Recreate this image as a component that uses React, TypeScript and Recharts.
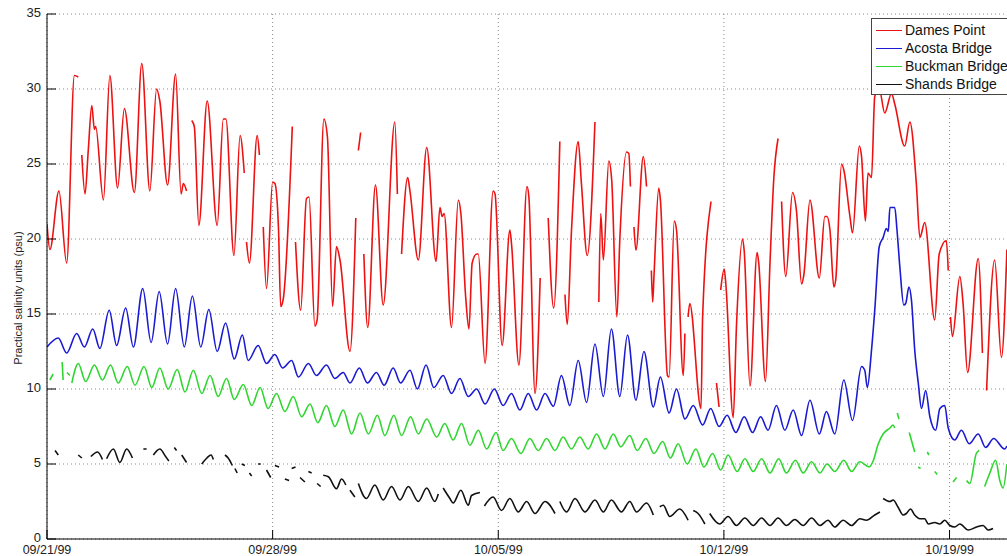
import { LineChart, Line, XAxis, YAxis, CartesianGrid, Legend } from 'recharts';

// salinity records, Sept 21 - Oct 20 1999
// t = days since 09/21/99, v = psu (null = gap in the record)
type Pt = [number, number | null];

const tickDays = [0, 7, 14, 21, 28];
const tickDates = ['09/21/99', '09/28/99', '10/05/99', '10/12/99', '10/19/99'];
const yTicks = [0, 5, 10, 15, 20, 25, 30, 35];

const damesPoint: Pt[] = [
  [0.0, 21.0], [0.09, 19.3], [0.37, 23.2], [0.61, 18.4], [0.85, 30.9], [0.97, 30.8], [1.02, null],
  [1.08, 25.6], [1.18, 23.0], [1.28, 25.9], [1.39, 28.9], [1.47, 27.3], [1.51, 27.5], [1.75, 22.6],
  [1.95, 30.9], [2.19, 23.4], [2.4, 28.7], [2.71, 23.1], [2.94, 31.7], [3.19, 23.2], [3.4, 30.0],
  [3.5, 29.2], [3.74, 23.6], [3.99, 31.0], [4.16, 23.0], [4.23, 23.7], [4.33, 23.2], [4.41, null],
  [4.49, 27.9], [4.57, 27.5], [4.71, 20.9], [4.97, 29.2], [5.28, 20.9], [5.47, 28.0], [5.55, 28.0],
  [5.8, 18.9], [5.99, 26.9], [6.12, 24.4], [6.16, null],
  [6.19, 19.8], [6.28, 18.4], [6.52, 26.9], [6.59, 25.6], [6.65, null],
  [6.71, 20.8], [6.81, 16.7], [7.0, 23.8], [7.07, 23.7], [7.18, 20.8], [7.25, 15.5], [7.33, 16.0],
  [7.61, 27.5], [7.66, null],
  [7.71, 19.8], [7.87, 15.25], [8.05, 22.7], [8.13, 22.8], [8.31, 14.2], [8.38, 14.6], [8.59, 28.0],
  [8.7, 26.8], [8.86, 15.5], [8.98, 19.5], [9.09, 18.6], [9.4, 12.5], [9.58, 21.4], [9.62, null],
  [9.66, 25.9], [9.73, 27.1], [9.78, null],
  [9.83, 19.0], [9.95, 14.1], [10.19, 23.6], [10.43, 15.6], [10.79, 27.8], [10.87, 23.0], [10.93, null],
  [11.0, 19.0], [11.19, 24.1], [11.26, 23.2], [11.52, 18.6], [11.78, 26.1], [12.07, 18.5],
  [12.19, 22.1], [12.26, 21.5], [12.32, 21.7], [12.55, 14.1], [12.76, 22.6], [12.84, 21.7],
  [12.99, 16.1], [13.09, 14.0], [13.19, 18.4], [13.33, 19.0], [13.38, 19.0], [13.59, 11.7],
  [13.84, 23.2], [13.9, 23.0], [14.12, 12.9], [14.36, 20.6], [14.41, 19.7], [14.64, 11.6],
  [14.89, 23.5], [14.95, 22.8], [15.14, 9.7], [15.3, 17.4], [15.42, null],
  [15.55, 21.4], [15.72, 15.4], [15.91, 26.5], [15.99, null],
  [16.07, 16.3], [16.14, 14.3], [16.27, 20.5], [16.48, 26.5], [16.58, 23.7], [16.76, 18.9],
  [17.0, 27.8], [17.06, null],
  [17.12, 15.8], [17.18, 21.7], [17.26, 18.6], [17.43, 25.2], [17.52, 23.9], [17.68, 14.8],
  [17.77, 19.9], [17.98, 25.8], [18.05, 25.7], [18.1, 23.5], [18.15, null],
  [18.21, 20.8], [18.27, 19.25], [18.5, 25.5], [18.6, 23.5], [18.67, null],
  [18.75, 17.9], [18.79, 15.8], [18.83, 17.5], [18.98, 23.4], [19.03, 22.6], [19.25, 10.9],
  [19.3, 10.8], [19.46, 21.2], [19.53, 20.6], [19.74, 10.9], [19.79, 13.7], [19.84, null],
  [19.89, 14.8], [19.94, 15.7], [20.29, 8.7], [20.34, 14.8], [20.6, 22.5], [20.68, null],
  [20.77, 10.4], [20.85, 8.8], [20.87, null],
  [20.9, 16.6], [21.01, 18.0], [21.06, 17.0], [21.29, 8.1], [21.39, 14.2], [21.58, 20.0],
  [21.63, 19.2], [21.81, 10.2], [22.03, 19.1], [22.08, 18.4], [22.29, 10.5], [22.43, 18.4],
  [22.55, 24.1], [22.68, 26.7], [22.73, null],
  [22.79, 22.5], [22.92, 17.5], [23.13, 23.1], [23.25, 21.9], [23.41, 17.0], [23.48, 17.6],
  [23.67, 22.6], [23.96, 17.4], [24.13, 21.5], [24.2, 21.5], [24.29, 20.6], [24.41, 16.8],
  [24.47, 17.3], [24.65, 25.0], [24.72, 24.6], [24.91, 21.5], [24.99, 20.4], [25.2, 26.2],
  [25.27, 25.5], [25.39, 21.2], [25.47, 24.4], [25.58, 24.1], [25.68, 29.5], [25.82, 30.0],
  [25.99, 28.4], [26.2, 29.7], [26.3, 29.0], [26.61, 26.2], [26.77, 27.8], [26.97, 23.7],
  [27.08, 20.1], [27.23, 21.1], [27.54, 14.6], [27.68, 19.0], [27.9, 19.9], [27.96, 17.9], [28.0, null],
  [28.03, 14.8], [28.09, 13.5], [28.32, 17.5], [28.42, 15.7], [28.56, 11.1], [28.89, 18.7],
  [29.02, 12.4], [29.08, null],
  [29.15, 9.9], [29.4, 18.6], [29.61, 12.1], [29.78, 19.3],
];

const acostaBridge: Pt[] = [
  [0.0, 12.8], [0.35, 13.4], [0.61, 12.4], [0.92, 13.7], [1.16, 12.8], [1.42, 14.0], [1.64, 12.7],
  [1.93, 15.25], [2.16, 12.9], [2.44, 15.4], [2.68, 12.8], [2.97, 16.7], [3.23, 13.1], [3.48, 16.5],
  [3.74, 13.0], [3.99, 16.7], [4.26, 12.8], [4.51, 16.2], [4.77, 12.8], [5.02, 15.3], [5.28, 12.5],
  [5.54, 14.4], [5.81, 12.0], [6.06, 13.6], [6.24, 11.9], [6.55, 12.9], [6.81, 11.7], [7.07, 12.3],
  [7.31, 11.4], [7.59, 11.9], [7.8, 10.8], [8.11, 11.7], [8.36, 10.9], [8.67, 11.6], [8.93, 10.7],
  [9.19, 11.1], [9.4, 10.4], [9.69, 11.4], [9.94, 10.4], [10.22, 11.1], [10.46, 10.25], [10.74, 11.4],
  [10.97, 10.4], [11.26, 11.25], [11.49, 10.0], [11.76, 11.6], [12.0, 10.1], [12.29, 10.9],
  [12.55, 9.7], [12.81, 10.7], [13.07, 9.5], [13.33, 10.0], [13.59, 9.0], [13.88, 10.0], [14.15, 8.9],
  [14.41, 9.7], [14.67, 8.6], [14.93, 9.7], [15.19, 8.6], [15.45, 9.7], [15.71, 8.85], [15.96, 10.9],
  [16.22, 8.9], [16.48, 11.9], [16.74, 9.1], [17.0, 13.0], [17.26, 9.5], [17.51, 14.0], [17.77, 9.5],
  [18.01, 13.6], [18.27, 9.25], [18.52, 12.5], [18.81, 8.8], [19.03, 10.8], [19.3, 8.4], [19.53, 10.0],
  [19.79, 8.0], [20.05, 8.9], [20.34, 7.6], [20.59, 8.7], [20.85, 7.5], [21.1, 8.25], [21.37, 7.1],
  [21.63, 8.15], [21.89, 7.1], [22.14, 8.15], [22.37, 7.25], [22.63, 8.9], [22.89, 7.25], [23.15, 8.6],
  [23.41, 6.9], [23.67, 9.25], [23.96, 7.0], [24.18, 8.5], [24.44, 7.0], [24.72, 10.6], [24.99, 7.9],
  [25.27, 11.5], [25.37, 11.25], [25.45, 10.1], [25.58, 12.6], [25.68, 15.25], [25.82, 19.5],
  [25.94, 20.1], [26.04, 20.7], [26.1, 20.5], [26.15, 22.1], [26.3, 22.1], [26.37, 20.6], [26.46, 18.1],
  [26.58, 15.6], [26.64, 15.7], [26.74, 16.8], [26.82, 15.9], [26.92, 12.6], [27.03, 10.4],
  [27.13, 8.7], [27.26, 9.9], [27.39, 8.15], [27.57, 7.25], [27.7, 8.7], [27.85, 8.9], [27.96, 7.4],
  [28.16, 6.6], [28.37, 7.25], [28.61, 6.35], [28.89, 7.0], [29.12, 6.1], [29.37, 6.7], [29.71, 6.0],
  [29.78, 6.2],
];

const buckmanBridge: Pt[] = [
  [0.09, 10.6], [0.19, 11.0], [0.3, null], [0.47, 11.8], [0.5, 10.6], [0.55, null],
  [0.62, 11.1], [0.71, 10.9], [0.74, null],
  [0.77, 10.4], [0.97, 11.7], [1.2, 10.5], [1.47, 11.6], [1.72, 10.6], [1.97, 11.6], [2.21, 10.4],
  [2.49, 11.5], [2.73, 10.25], [3.01, 11.5], [3.25, 10.1], [3.5, 11.4], [3.76, 10.0], [4.04, 11.3],
  [4.28, 9.8], [4.54, 11.25], [4.8, 9.7], [5.06, 10.9], [5.31, 9.5], [5.57, 10.7], [5.81, 9.3],
  [6.09, 10.3], [6.35, 8.9], [6.61, 10.1], [6.86, 8.7], [7.12, 9.7], [7.38, 8.5], [7.64, 9.5],
  [7.9, 8.15], [8.16, 9.0], [8.4, 7.75], [8.67, 8.9], [8.93, 7.5], [9.19, 8.6], [9.45, 7.0],
  [9.71, 8.4], [9.97, 7.0], [10.25, 8.25], [10.48, 6.9], [10.76, 8.25], [11.0, 6.9], [11.28, 8.15],
  [11.52, 7.0], [11.78, 8.0], [12.09, 6.8], [12.34, 7.7], [12.6, 6.6], [12.86, 7.7], [13.12, 6.25],
  [13.38, 7.25], [13.64, 6.0], [13.93, 7.1], [14.15, 5.9], [14.41, 6.7], [14.7, 5.7], [14.98, 6.7],
  [15.24, 5.9], [15.5, 6.7], [15.76, 5.9], [16.01, 6.8], [16.27, 6.0], [16.53, 6.8], [16.79, 6.0],
  [17.05, 7.0], [17.31, 6.0], [17.57, 7.0], [17.8, 6.15], [18.08, 6.9], [18.31, 5.9], [18.58, 6.7],
  [18.83, 5.7], [19.1, 6.5], [19.34, 5.4], [19.58, 6.35], [19.86, 5.0], [20.13, 6.0], [20.38, 4.8],
  [20.65, 5.7], [20.9, 4.6], [21.13, 5.6], [21.41, 4.5], [21.65, 5.35], [21.91, 4.5], [22.17, 5.35],
  [22.43, 4.4], [22.7, 5.35], [22.94, 4.4], [23.22, 5.25], [23.46, 4.4], [23.72, 5.15], [23.98, 4.4],
  [24.2, 5.0], [24.44, 4.5], [24.72, 5.25], [24.96, 4.5], [25.22, 5.15], [25.51, 4.8], [25.63, 5.2],
  [25.79, 6.35], [25.94, 7.0], [26.15, 7.4], [26.25, 7.6], [26.3, 7.4], [26.34, null],
  [26.38, 8.4], [26.43, 8.0], [26.55, null],
  [26.75, 7.1], [26.92, 5.8], [26.97, null],
  [27.03, 4.8], [27.1, 4.7], [27.2, null],
  [27.31, 5.8], [27.36, 5.6], [27.45, null],
  [27.54, 4.5], [27.62, 4.3], [27.8, null],
  [28.11, 3.8], [28.22, 4.1], [28.4, null],
  [28.53, 3.9], [28.63, 3.7], [28.83, 5.7], [28.92, 5.9], [29.0, null],
  [29.09, 3.5], [29.25, 4.4], [29.43, 5.25], [29.56, 3.9], [29.66, 3.4], [29.78, 5.0],
];

const shandsBridge: Pt[] = [
  [0.25, 5.9], [0.35, 5.6], [0.6, null], [0.97, 5.6], [1.08, 5.4], [1.2, null],
  [1.36, 5.5], [1.57, 5.8], [1.72, 5.3], [1.79, null],
  [1.85, 5.35], [2.06, 6.0], [2.26, 5.1], [2.47, 6.0], [2.65, 5.4], [2.8, null],
  [2.99, 6.0], [3.09, 6.0], [3.2, null],
  [3.3, 5.6], [3.5, 6.0], [3.68, 5.5], [3.78, 5.2], [3.86, null],
  [3.95, 6.1], [4.02, 5.9], [4.1, null], [4.18, 5.6], [4.33, 5.1], [4.5, null],
  [4.8, 5.0], [4.96, 5.4], [5.09, 5.6], [5.16, 5.3], [5.3, null],
  [5.52, 5.6], [5.62, 5.4], [5.75, 4.9], [5.79, null], [5.83, 4.7], [5.9, 4.4], [5.97, null],
  [6.04, 5.0], [6.14, 4.9], [6.2, null], [6.28, 4.4], [6.35, 4.2], [6.45, null],
  [6.55, 5.0], [6.63, 5.0], [6.7, null], [6.81, 4.6], [6.94, 4.1], [7.0, null],
  [7.07, 4.9], [7.2, 4.8], [7.3, null], [7.38, 4.0], [7.51, 3.9], [7.55, null],
  [7.59, 4.7], [7.71, 4.8], [7.78, null], [7.85, 4.1], [8.0, 3.8], [8.05, null],
  [8.11, 4.5], [8.21, 4.4], [8.3, null], [8.38, 3.7], [8.49, 3.5], [8.53, null],
  [8.57, 4.25], [8.73, 4.15], [8.98, 3.35], [9.14, 4.0], [9.27, 3.6], [9.33, null],
  [9.4, 3.25], [9.55, 2.8], [9.6, null],
  [9.66, 3.7], [9.91, 2.7], [10.17, 3.6], [10.43, 2.6], [10.69, 3.5], [10.95, 2.6], [11.21, 3.5],
  [11.52, 2.5], [11.78, 3.4], [12.03, 2.5], [12.14, 3.0], [12.2, null],
  [12.29, 3.4], [12.5, 2.7], [12.6, 2.4], [12.84, 3.25], [13.07, 2.25], [13.17, 2.9], [13.43, 3.1], [13.5, null],
  [13.57, 2.2], [13.84, 2.8], [14.1, 1.9], [14.36, 2.7], [14.62, 1.8], [14.88, 2.5], [15.14, 1.7],
  [15.45, 2.5], [15.76, 1.7], [15.84, null],
  [15.91, 2.5], [16.12, 1.8], [16.38, 2.7], [16.69, 1.8], [17.0, 2.6], [17.26, 1.8], [17.51, 2.6],
  [17.82, 1.8], [18.08, 2.5], [18.29, 1.8], [18.6, 2.4], [18.81, 1.6], [18.9, null],
  [19.01, 2.15], [19.12, 2.25], [19.32, 1.5], [19.63, 2.0], [19.89, 1.25], [19.97, null],
  [20.05, 1.9], [20.2, 1.7], [20.41, 1.0], [20.48, null],
  [20.56, 1.7], [20.87, 1.0], [21.13, 1.5], [21.39, 0.9], [21.65, 1.4], [21.91, 0.9], [22.17, 1.4],
  [22.43, 0.9], [22.68, 1.4], [22.94, 0.9], [23.2, 1.3], [23.46, 0.9], [23.72, 1.4], [23.98, 0.9],
  [24.23, 1.25], [24.44, 0.8], [24.7, 1.25], [24.96, 0.9], [25.22, 1.35], [25.42, 1.25], [25.68, 1.6],
  [25.84, 1.8], [25.89, null],
  [25.94, 2.7], [26.15, 2.5], [26.25, 2.6], [26.41, 2.1], [26.56, 1.6], [26.66, 1.7], [26.79, 2.0],
  [26.92, 1.6], [27.08, 1.35], [27.23, 1.35], [27.34, 1.0], [27.54, 1.1], [27.7, 1.0], [27.85, 1.25],
  [28.01, 0.9], [28.16, 0.8], [28.32, 1.0], [28.58, 0.6], [28.84, 0.8], [29.04, 0.9], [29.2, 0.6],
  [29.35, 0.7],
];

const FONT = '"Liberation Sans", Arial, Helvetica, sans-serif';

const series = [
  { name: 'Dames Point', color: '#ee1111', points: damesPoint },
  { name: 'Acosta Bridge', color: '#1a1ad2', points: acostaBridge },
  { name: 'Buckman Bridge', color: '#2fd62f', points: buckmanBridge },
  { name: 'Shands Bridge', color: '#111111', points: shandsBridge },
];

const toRows = (pts: Pt[]) => pts.map(([t, v]) => ({ t, v }));

// matlab style ticks point into the plot
const BottomTick = ({ x, y, payload }: any) => (
  <g>
    <line x1={x} x2={x} y1={y} y2={y - 9} stroke="#000" />
    <text x={x} y={y + 14.5} textAnchor="middle" fontSize={12.5} fill="#222" fontFamily={FONT}>
      {tickDates[tickDays.indexOf(payload.value)]}
    </text>
  </g>
);

const TopTick = ({ x, y }: any) => <line x1={x} x2={x} y1={y} y2={y + 9} stroke="#000" />;

const LeftTick = ({ x, y, payload }: any) => (
  <g>
    <line x1={x} x2={x + 9} y1={y} y2={y} stroke="#000" />
    <text x={x - 6} y={y + 2.5} textAnchor="end" fontSize={13} fill="#222" fontFamily={FONT}>
      {payload.value}
    </text>
  </g>
);

const LegendBox = () => (
  <div
    style={{
      border: '1px solid #444',
      background: '#fff',
      width: 150,
      padding: '2px 0 1px 0',
      fontFamily: FONT,
      fontSize: 14,
      color: '#111',
    }}
  >
    {series.map((s) => (
      <div key={s.name} style={{ display: 'flex', alignItems: 'center', height: 18, whiteSpace: 'nowrap' }}>
        <span style={{ display: 'inline-block', width: 26, borderTop: `1.5px solid ${s.color}`, marginLeft: 4, marginRight: 3 }} />
        <span>{s.name}</span>
      </div>
    ))}
  </div>
);

export default function App() {
  return (
    <div
      style={{
        position: 'absolute',
        left: 0,
        top: 0,
        width: 1007,
        height: 556,
        overflow: 'hidden',
        background: '#fff',
        fontFamily: FONT,
      }}
    >
      <LineChart width={1030} height={556} margin={{ top: 14, right: 16, bottom: 0, left: 0 }}>
        <CartesianGrid stroke="#8a8a8a" strokeDasharray="1 3" />
        <XAxis
          dataKey="t"
          type="number"
          domain={[0, 30]}
          ticks={tickDays}
          interval={0}
          height={17}
          tickSize={0}
          tickMargin={0}
          tickLine={false}
          stroke="#000"
          allowDataOverflow
          tick={(p: any) => <BottomTick {...p} />}
        />
        <XAxis
          xAxisId="top"
          orientation="top"
          dataKey="t"
          type="number"
          domain={[0, 30]}
          ticks={tickDays}
          interval={0}
          height={0}
          tickSize={0}
          tickMargin={0}
          tickLine={false}
          stroke="#000"
          allowDataOverflow
          tick={(p: any) => <TopTick {...p} />}
        />
        <YAxis
          type="number"
          domain={[0, 35]}
          ticks={yTicks}
          interval={0}
          width={47}
          tickSize={0}
          tickMargin={0}
          tickLine={false}
          stroke="#000"
          tick={(p: any) => <LeftTick {...p} />}
        />
        {series.map((s) => (
          <Line
            key={s.name}
            data={toRows(s.points)}
            dataKey="v"
            name={s.name}
            type="monotone"
            stroke={s.color}
            strokeWidth={1.6}
            dot={false}
            activeDot={false}
            connectNulls={false}
            isAnimationActive={false}
          />
        ))}
        <Legend
          layout="horizontal"
          verticalAlign="middle"
          align="center"
          wrapperStyle={{ left: 871, top: 18, width: 'auto', height: 'auto' }}
          content={() => <LegendBox />}
        />
      </LineChart>
      <div
        style={{
          position: 'absolute',
          left: 18,
          top: 298,
          transform: 'translate(-50%, -50%) rotate(-90deg)',
          whiteSpace: 'nowrap',
          fontSize: 11,
          color: '#222',
        }}
      >
        Practical salinity units (psu)
      </div>
    </div>
  );
}
